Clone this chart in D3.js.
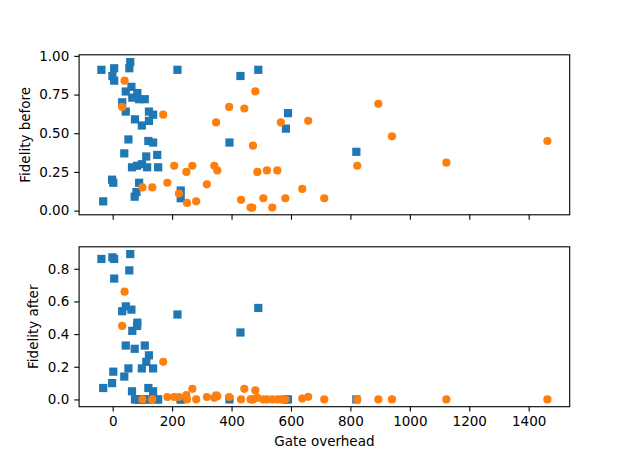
<!DOCTYPE html>
<html>
<head>
<meta charset="utf-8">
<script src="https://cdn.jsdelivr.net/npm/d3@7"></script>
<style>
  body { margin: 0; background: #fff; }
  text { font-family: "DejaVu Sans", sans-serif; fill: #000; }
</style>
</head>
<body>
<script>
// blue squares: gate overhead, fidelity before, fidelity after
const blueGate = [-38, -32, -2, 2, -1, 5, 5, 32, 39, 44, 44, 53, 56, 59, 63, 66, 65, 74, 75, 80,
  83, 82, 89, 89, 98, 99, 108, 113, 116, 120, 122, 122, 136, 136, 150, 153, 218, 229, 229, 393,
  430, 490, 583, 590, 820];
const blueBefore = [0.91, 0.06, 0.20, 0.18, 0.87, 0.92, 0.84, 0.70, 0.37, 0.77, 0.64, 0.46, 0.92, 0.96, 0.80, 0.73, 0.28, 0.09, 0.59, 0.12,
  0.76, 0.29, 0.72, 0.18, 0.55, 0.30, 0.72, 0.35, 0.28, 0.45, 0.64, 0.58, 0.62, 0.44, 0.36, 0.28, 0.91, 0.13, 0.08, 0.44,
  0.87, 0.91, 0.53, 0.63, 0.38];
const blueAfter = [0.86, 0.07, 0.10, 0.17, 0.87, 0.86, 0.74, 0.54, 0.14, 0.57, 0.33, 0.19, 0.79, 0.89, 0.55, 0.42, 0.05, 0.31, 0.00, 0.00,
  0.47, 0.45, 0.00, 0.00, 0.19, 0.00, 0.33, 0.23, 0.00, 0.07, 0.27, 0.00, 0.19, 0.05, 0.00, 0.00, 0.52, 0.00, 0.00, 0.00,
  0.41, 0.56, 0.00, 0.00, 0.00];

// orange circles
const orangeGate = [40, 32, 170, 207, 268, 248, 184, 100, 133, 317, 223, 250, 281, 480, 392, 443, 894, 348, 566, 658,
  940, 472, 823, 342, 352, 487, 519, 554, 638, 432, 464, 470, 507, 537, 581, 712, 1123, 1463];
const orangeBefore = [0.84, 0.67, 0.62, 0.29, 0.29, 0.25, 0.18, 0.15, 0.15, 0.17, 0.11, 0.05, 0.06, 0.77, 0.67, 0.66, 0.69, 0.57, 0.57, 0.58,
  0.48, 0.42, 0.29, 0.29, 0.26, 0.25, 0.26, 0.26, 0.14, 0.07, 0.02, 0.02, 0.08, 0.02, 0.08, 0.08, 0.31, 0.45];
const orangeAfter = [0.66, 0.45, 0.23, 0.015, 0.065, 0.027, 0.015, 0.00, 0.00, 0.015, 0.015, 0.00, 0.00, 0.055, 0.015, 0.065, 0.00, 0.025, 0.00, 0.016,
  0.00, 0.00, 0.00, 0.01, 0.02, 0.01, 0.00, 0.00, 0.005, 0.00, 0.00, 0.00, 0.00, 0.00, 0.00, 0.00, 0.00, 0.00];

const xTicks = [0, 200, 400, 600, 800, 1000, 1200, 1400];
const beforeTicks = [0, 0.25, 0.5, 0.75, 1.0];
const afterTicks = [0, 0.2, 0.4, 0.6, 0.8];

const width = 633;
const height = 457;
const left = 79.1;
const right = 569.7;
const tickLen = 4.9;
const fontSize = 13.5;
const blue = "#1f77b4";
const orange = "#ff7f0e";
const markerSize = 8.2;

// matplotlib style 5% margins
const padded = (vals) => {
  const [lo, hi] = d3.extent(vals);
  const m = (hi - lo) * 0.05;
  return [lo - m, hi + m];
};

const x = d3.scaleLinear()
  .domain(padded(blueGate.concat(orangeGate)))
  .range([left, right]);

const panels = [
  {
    top: 54.8, bottom: 214.8, label: "Fidelity before", labelX: 25,
    blue: blueBefore, orange: orangeBefore, ticks: beforeTicks, fmt: d3.format(".2f"), showX: false,
  },
  {
    top: 246.8, bottom: 406.7, label: "Fidelity after", labelX: 33,
    blue: blueAfter, orange: orangeAfter, ticks: afterTicks, fmt: d3.format(".1f"), showX: true,
  },
];

const svg = d3.select("body").append("svg")
  .attr("width", width)
  .attr("height", height);

for (const p of panels) {
  const y = d3.scaleLinear()
    .domain(padded(p.blue.concat(p.orange)))
    .range([p.bottom, p.top]);

  const g = svg.append("g");

  // points, blue first so orange sits on top
  g.selectAll(".sq")
    .data(blueGate.map((d, i) => [d, p.blue[i]]))
    .join("rect")
    .attr("class", "sq")
    .attr("x", (d) => x(d[0]) - markerSize / 2)
    .attr("y", (d) => y(d[1]) - markerSize / 2)
    .attr("width", markerSize)
    .attr("height", markerSize)
    .attr("fill", blue);

  g.selectAll(".dot")
    .data(orangeGate.map((d, i) => [d, p.orange[i]]))
    .join("circle")
    .attr("class", "dot")
    .attr("cx", (d) => x(d[0]))
    .attr("cy", (d) => y(d[1]))
    .attr("r", markerSize / 2)
    .attr("fill", orange);

  const xAxis = g.append("g")
    .attr("transform", `translate(0,${p.bottom})`)
    .call(d3.axisBottom(x).tickValues(xTicks).tickSize(tickLen).tickPadding(4.9)
      .tickFormat(p.showX ? d3.format("d") : () => ""));

  const yAxis = g.append("g")
    .attr("transform", `translate(${left},0)`)
    .call(d3.axisLeft(y).tickValues(p.ticks).tickSize(tickLen).tickPadding(4.9).tickFormat(p.fmt));

  for (const a of [xAxis, yAxis]) {
    a.select(".domain").remove();
    a.selectAll("line").attr("stroke", "#000").attr("stroke-width", 1.1);
    a.selectAll("text")
      .style("font-family", "'DejaVu Sans', sans-serif")
      .style("font-size", `${fontSize}px`)
      .attr("fill", "#000");
  }

  // frame
  g.append("rect")
    .attr("x", left)
    .attr("y", p.top)
    .attr("width", right - left)
    .attr("height", p.bottom - p.top)
    .attr("fill", "none")
    .attr("stroke", "#000")
    .attr("stroke-width", 1.1);

  g.append("text")
    .attr("transform", `translate(${p.labelX},${(p.top + p.bottom) / 2}) rotate(-90)`)
    .attr("text-anchor", "middle")
    .attr("dominant-baseline", "central")
    .style("font-size", `${fontSize}px`)
    .text(p.label);
}

svg.append("text")
  .attr("x", (left + right) / 2)
  .attr("y", 446)
  .attr("text-anchor", "middle")
  .style("font-size", `${fontSize}px`)
  .text("Gate overhead");
</script>
</body>
</html>
